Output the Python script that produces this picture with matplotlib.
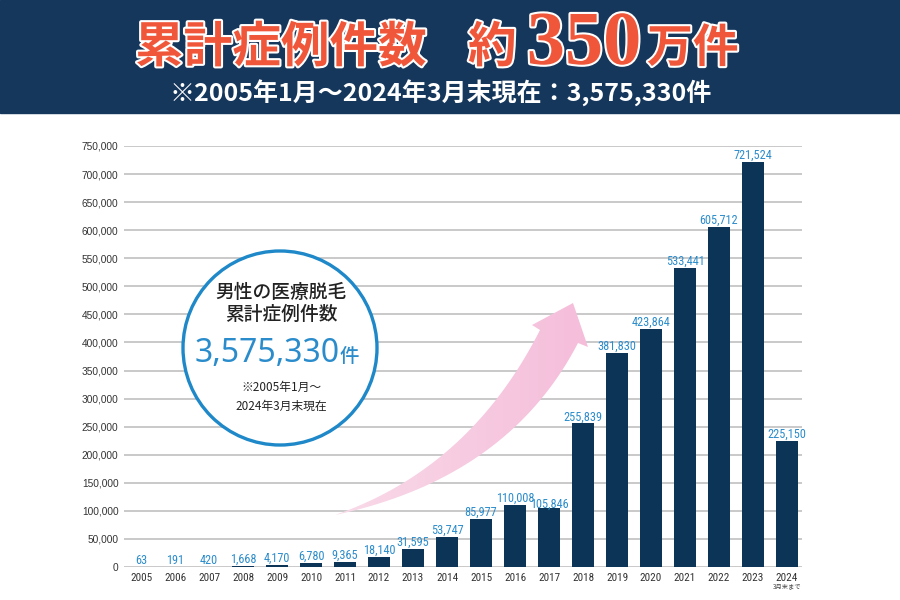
import numpy as np
from matplotlib import pyplot as plt
from matplotlib import patheffects
from matplotlib.patches import Rectangle, Circle, Polygon
from matplotlib.colors import LinearSegmentedColormap

plt.rcParams['font.family'] = ['Noto Sans CJK JP', 'DejaVu Sans']

years = ['2005', '2006', '2007', '2008', '2009', '2010', '2011', '2012', '2013', '2014',
         '2015', '2016', '2017', '2018', '2019', '2020', '2021', '2022', '2023', '2024']
cases = [63, 191, 420, 1668, 4170, 6780, 9365, 18140, 31595, 53747,
         85977, 110008, 105846, 255839, 381830, 423864, 533441, 605712, 721524, 225150]
yticks = list(range(0, 750001, 50000))

NAVY = '#16375c'
BAR = '#0c3457'
BLUE = '#2b8ccc'
RED = '#f0573a'

narrow = ['Roboto Condensed', 'Liberation Sans Narrow', 'Liberation Sans']

fig = plt.figure(figsize=(9, 6), dpi=100)
fig.patch.set_facecolor('white')

# chart axes
ax = fig.add_axes([124 / 900, 33 / 600, 678 / 900, 421 / 600])
x = np.arange(len(years))
ax.bar(x, cases, width=0.62, color=BAR, zorder=3)
ax.set_xlim(-0.5, len(years) - 0.56)
ax.set_ylim(0, 750000)
ax.set_yticks(yticks)
ax.set_yticklabels([f'{v:,}' for v in yticks], family=['Liberation Sans', 'DejaVu Sans'],
                   fontsize=7.3, color='#333333')
ax.set_xticks(x)
ax.set_xticklabels(years, family=narrow, fontsize=8, color='#333333')
ax.tick_params(length=0, pad=4)
ax.grid(True, axis='y', color='#c0c0c0', lw=1.2)
ax.set_axisbelow(True)
for s in ax.spines.values():
    s.set_visible(False)
for xi, v in zip(x, cases):
    dy = -2.2 if years[xi] == '2017' else 0  # nudged down so it clears 2016's label
    ax.annotate(f'{v:,}', (xi, v), xytext=(0, dy), textcoords='offset points',
                ha='center', va='bottom', color=BLUE, fontsize=8.8, family=narrow,
                zorder=5)
ax.annotate('3月末まで', (x[-1], 0), xytext=(0, -14), textcoords='offset points',
            ha='center', va='center', fontsize=4.5, color='#444444')

# overlay in pixel coordinates
ov = fig.add_axes([0, 0, 1, 1], zorder=5)
ov.axis('off')
ov.patch.set_alpha(0)

# banner
ov.add_patch(Rectangle((0, 0), 900, 113, color=NAVY))
stroke = [patheffects.withStroke(linewidth=3, foreground='white')]
ov.text(135, 62, '累計症例件数', fontsize=35, fontweight='bold', color=RED,
        ha='left', va='baseline', path_effects=stroke)
ov.text(468, 62, '約', fontsize=35, fontweight='bold', color=RED,
        ha='left', va='baseline', path_effects=stroke)
ov.text(584, 64, '350', fontsize=55, fontweight='bold', color=RED,
        family=['Liberation Serif', 'DejaVu Serif'],
        ha='center', va='baseline', path_effects=stroke)
ov.text(647, 62, '万件', fontsize=33, fontweight='bold', color=RED,
        ha='left', va='baseline', path_effects=stroke)
ov.text(441, 93, '※2005年1月～2024年3月末現在：3,575,330件', fontsize=18,
        fontweight='bold', color='white', ha='center', va='center')


# pink arrow with gradient
def quad(p0, c, p2, n=40):
    t = np.linspace(0, 1, n)[:, None]
    return (1 - t) ** 2 * np.array(p0) + 2 * (1 - t) * t * np.array(c) + t ** 2 * np.array(p2)


tail = (335, 515)
upper = quad(tail, (470, 468), (540, 330))
lower = quad(tail, (508, 478), (578, 343))
head = np.array([(540, 330), (532, 325), (573, 303), (588, 347), (578, 343)])
pts = np.vstack([upper, head[1:4], lower[::-1]])
arrow = Polygon(pts, closed=True, facecolor='none', edgecolor='none')
ov.add_patch(arrow)
grad = np.linspace(0, 1, 256)[None, :]
pink = LinearSegmentedColormap.from_list('pink', ['#f9dbe9', '#f5bdda'])
im = ov.imshow(grad, cmap=pink, extent=(330, 590, 520, 300), aspect='auto', zorder=2)
im.set_clip_path(arrow)
ov.set_xlim(0, 900)
ov.set_ylim(600, 0)

# circle callout
ov.add_patch(Circle((280, 348), 97, facecolor='white', edgecolor='#1e88c8', lw=2.4, zorder=3))
ov.text(281, 292, '男性の医療脱毛', fontsize=13.5, fontweight='medium', color='#222222',
        ha='center', va='center', zorder=4)
ov.text(281, 314, '累計症例件数', fontsize=13.5, fontweight='medium', color='#222222',
        ha='center', va='center', zorder=4)
ov.text(340, 353, '3,575,330', fontsize=23, fontweight='medium', color=BLUE,
        ha='right', va='center', family=['Noto Sans', 'DejaVu Sans'], zorder=4)
ov.text(340, 356, '件', fontsize=14, fontweight='medium', color=BLUE,
        ha='left', va='center', zorder=4)
ov.text(281, 387, '※2005年1月～', fontsize=8.5, color='#222222', ha='center', va='center', zorder=4)
ov.text(281, 406, '2024年3月末現在', fontsize=8.5, color='#222222', ha='center', va='center', zorder=4)

fig.savefig('out.png', dpi=100)
